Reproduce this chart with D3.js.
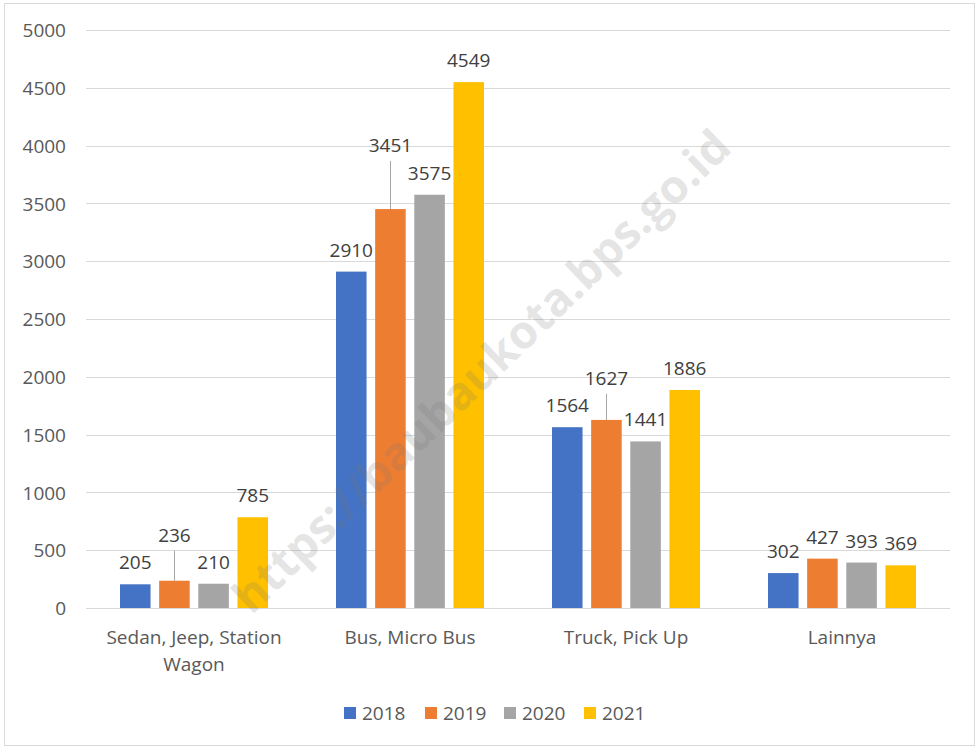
<!DOCTYPE html>
<html><head><meta charset="utf-8">
<script src="https://cdn.jsdelivr.net/npm/d3@7"></script>
<style>
body{margin:0;background:#fff;}
text{font-family:"Open Sans","Noto Sans",sans-serif;}
</style></head>
<body>
<svg id="chart" width="979" height="747"></svg>
<script>
const categories = [["Sedan, Jeep, Station","Wagon"],["Bus, Micro Bus"],["Truck, Pick Up"],["Lainnya"]];
const years = ["2018","2019","2020","2021"];
const v2018 = [205, 2910, 1564, 302];
const v2019 = [236, 3451, 1627, 427];
const v2020 = [210, 3575, 1441, 393];
const v2021 = [785, 4549, 1886, 369];
const yTicks = [0,500,1000,1500,2000,2500,3000,3500,4000,4500,5000];
const colors = ["#4472C4","#ED7D31","#A5A5A5","#FFC000"];
const series = [v2018, v2019, v2020, v2021];
// labels lifted with leader line: [seriesIndex, categoryIndex, liftPx]
const lifted = [[1,0,24],[1,1,42],[1,2,20]];

const FS = 19;
const svg = d3.select("#chart");
svg.append("rect").attr("x",4.5).attr("y",3.5).attr("width",970).attr("height",742)
  .attr("fill","#fff").attr("stroke","#d9d9d9");

const x0 = d3.scaleBand().domain(d3.range(categories.length)).range([86,950]);
const y = d3.scaleLinear().domain([0,5000]).range([608,30]);
const groupW = 148;
const x1 = d3.scaleBand().domain(d3.range(years.length)).range([0,groupW]).paddingInner(0.22);

// gridlines
svg.append("g").selectAll("line").data(yTicks).join("line")
  .attr("x1",86).attr("x2",950).attr("y1",d=>Math.round(y(d))+0.5).attr("y2",d=>Math.round(y(d))+0.5)
  .attr("stroke","#d9d9d9").attr("stroke-width",1);

// y axis labels
const yAxis = d3.axisLeft(y).tickValues(yTicks).tickSize(0).tickPadding(0).tickFormat(d3.format("d"));
const ga = svg.append("g").attr("transform","translate(66,0)").call(yAxis);
ga.select(".domain").remove();
ga.selectAll("text").attr("font-size",FS).attr("fill","#595959").attr("dy","0.35em")
  .style("font-family","'Open Sans','Noto Sans',sans-serif");

// bars
const bars = [];
series.forEach((s,si)=>s.forEach((v,ci)=>bars.push({si,ci,v})));
const bx = d => x0(d.ci) + (x0.bandwidth()-groupW)/2 + x1(d.si);
svg.append("g").selectAll("rect").data(bars).join("rect")
  .attr("x",bx).attr("width",x1.bandwidth())
  .attr("y",d=>y(d.v)).attr("height",d=>y(0)-y(d.v))
  .attr("fill",d=>colors[d.si]);

// watermark
svg.append("text").attr("transform","translate(484,374) rotate(-44)")
  .attr("text-anchor","middle").attr("dominant-baseline","middle")
  .attr("font-size",46).attr("font-weight","bold")
  .attr("fill","rgba(120,120,120,0.2)")
  .text("https://baubaukota.bps.go.id");

// data labels
const liftOf = d => { const f = lifted.find(l=>l[0]===d.si && l[1]===d.ci); return f?f[2]:0; };
const lg = svg.append("g");
bars.forEach(d=>{
  const cx = bx(d) + x1.bandwidth()/2;
  const lift = liftOf(d);
  const ty = y(d.v) - 15 - lift;
  if(lift>0){
    lg.append("line").attr("x1",Math.round(cx)+0.5).attr("x2",Math.round(cx)+0.5)
      .attr("y1",ty+9).attr("y2",y(d.v)).attr("stroke","#a6a6a6").attr("stroke-width",1);
  }
  lg.append("text").attr("x",cx).attr("y",ty).attr("text-anchor","middle")
    .attr("font-size",FS).attr("fill","#404040").text(d.v);
});

// category labels
categories.forEach((lines,ci)=>{
  const t = svg.append("text").attr("x",x0(ci)+x0.bandwidth()/2).attr("y",644)
    .attr("text-anchor","middle").attr("font-size",FS).attr("fill","#595959");
  lines.forEach((ln,i)=>t.append("tspan").attr("x",x0(ci)+x0.bandwidth()/2).attr("dy",i===0?0:27).text(ln));
});

// legend
const legX = [344,425,504,584];
const leg = svg.append("g");
years.forEach((yr,i)=>{
  leg.append("rect").attr("x",legX[i]).attr("y",707).attr("width",12).attr("height",12).attr("fill",colors[i]);
  leg.append("text").attr("x",legX[i]+18).attr("y",720).attr("font-size",FS).attr("fill","#595959").text(yr);
});
</script>
</body></html>
